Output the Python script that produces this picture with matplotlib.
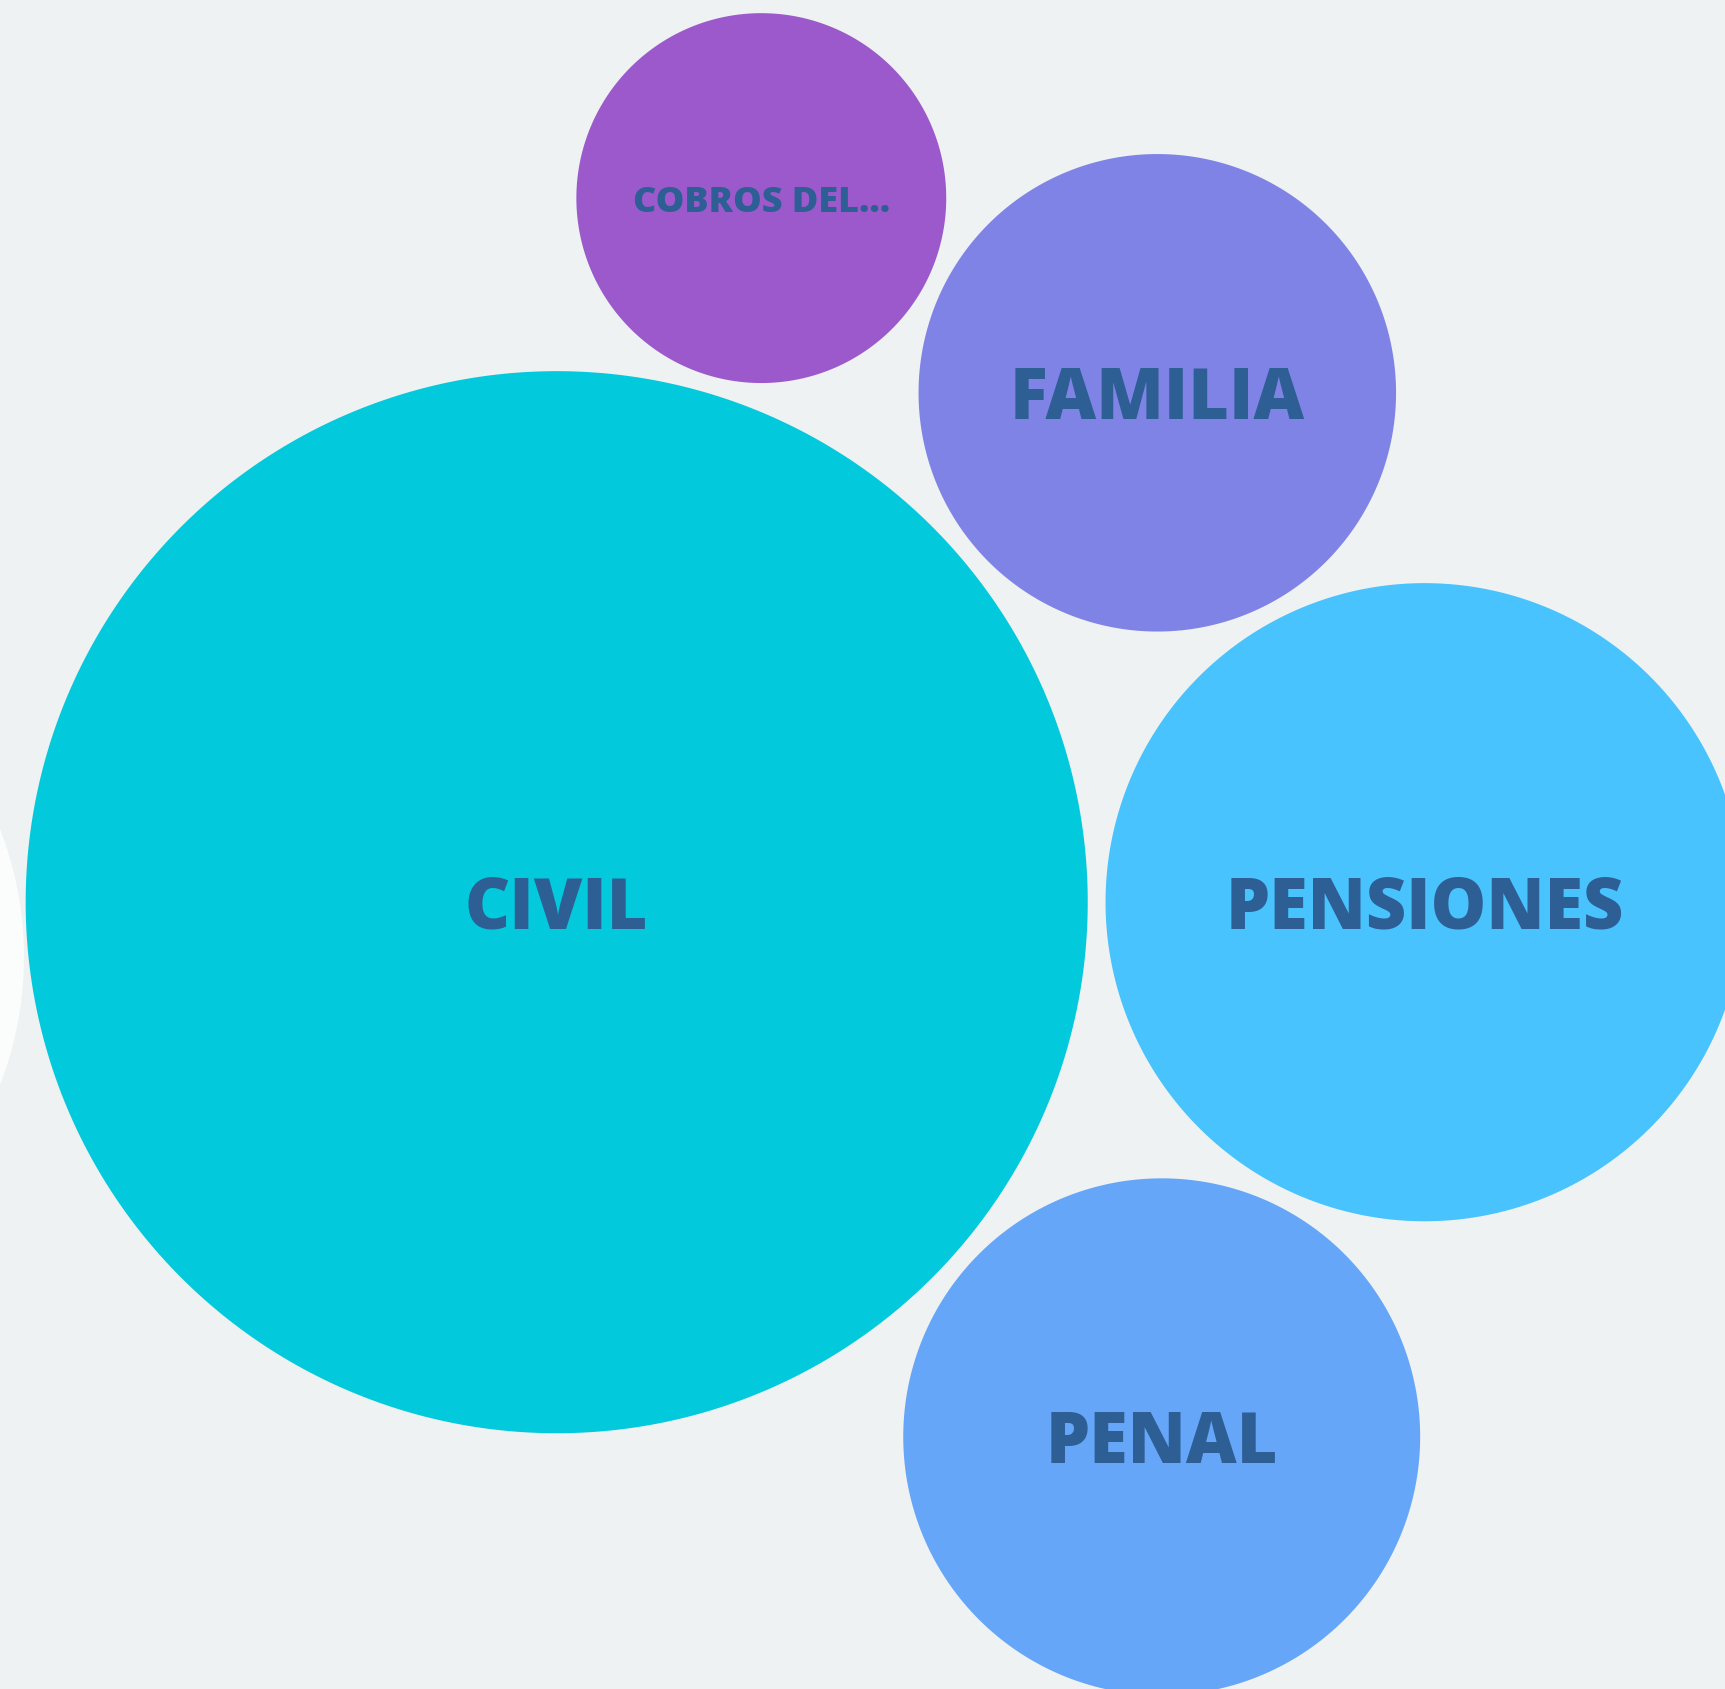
import matplotlib
matplotlib.use("Agg")
import matplotlib.pyplot as plt
from matplotlib.patches import CirclePolygon
from matplotlib import font_manager
import numpy as np

# Data
categories = ["CIVIL", "PENSIONES", "PENAL", "FAMILIA", "COBROS DEL...", ""]
values = [2820, 1018, 668, 570, 342, 1246]
colors = ["#03c9dc", "#48c3fe", "#66a6f9", "#8083e6", "#9b59cc", "#fbfdfd"]

# Layout (pixel centres of packed bubbles)
centers_x = [556.7, 1424.6, 1161.7, 1157.3, 761.3, -329]
centers_y = [903.2, 903.2, 1437.8, 393.8, 199.1, 958]
font_px = [70, 70, 70, 70, 36, 0]

W, H = 1725, 1690
fig = plt.figure(figsize=(W / 100, H / 100), dpi=100)
fig.patch.set_facecolor("#eef2f3")
ax = fig.add_axes([0, 0, 1, 1])
ax.set_xlim(0, W)
ax.set_ylim(H, 0)
ax.set_aspect("equal")
ax.axis("off")

names = {f.name + "|" + str(f.weight) for f in font_manager.fontManager.ttflist if "Open Sans" in f.name}
print(sorted(names))

scale = 10.0
for cat, v, c, cx, cy, fp in zip(categories, values, colors, centers_x, centers_y, font_px):
    r = scale * np.sqrt(v)
    ax.add_patch(CirclePolygon((cx, cy), r, resolution=720, facecolor=c, edgecolor="none"))
    if cat:
        fs = fp * 72 / 100
        ax.text(cx, cy + 0.714 * fp / 2, cat, ha="center", va="baseline",
                fontsize=fs, fontweight=800, family=["Open Sans", "DejaVu Sans"],
                color="#2d5e94")

fig.savefig("out.png", dpi=100, facecolor=fig.get_facecolor())
